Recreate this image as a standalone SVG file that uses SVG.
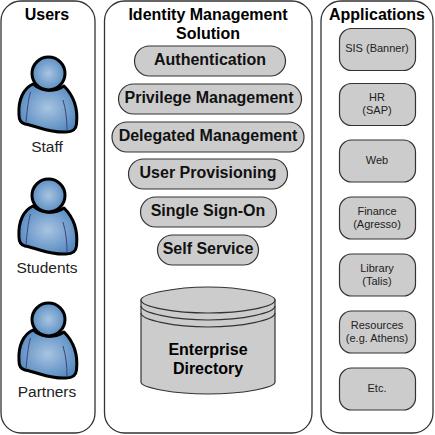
<svg xmlns="http://www.w3.org/2000/svg" width="435" height="435" viewBox="0 0 435 435">
<style>
text{font-family:"Liberation Sans",Arial,sans-serif;text-anchor:middle;fill:#000}
.h{font-size:16px;font-weight:bold}
.p{fill:#ccc;stroke:#333;stroke-width:1.2}
.pt{font-size:16px;font-weight:bold;fill:#111}
.app{fill:#ccc;stroke:#333;stroke-width:1.2}
.at{font-size:11px;fill:#222}
.lb{font-size:15.500px;fill:#222}
.panel{fill:#fff;stroke:#333;stroke-width:1.3}
.bd{fill:url(#g);stroke:#000;stroke-width:3;stroke-linejoin:round}
.cr{fill:none;stroke:#43407f;stroke-width:1}
.db{fill:#ccc;stroke:#333;stroke-width:1.2}
</style>
<defs>
<radialGradient id="g" cx="0.5" cy="0.5" r="0.6"><stop offset="0" stop-color="#a9c4e2"/><stop offset="1" stop-color="#4d85bd"/></radialGradient>
<g id="user">
<path class="bd" d="M33 84C24 88 18 99 19 115C19 120 21 123 25 124C40 127 50 133 66 132C71 132 76 130 76.500 124C78 110 74 96 64 86C55 92 42 92 33 84Z"/>
<path class="cr" d="M30.500 92C28 100 27 112 26 123M63 100C66 110 67 120 67 130"/>
<circle class="bd" cx="48.500" cy="73.500" r="16.500"/>
</g>
</defs>
<g id="users"><rect class="panel" x="1" y="1" width="94" height="432" rx="20"/><text class="h" x="47" y="20">Users</text></g>
<g id="identity"><rect class="panel" x="104.500" y="1" width="207.500" height="432" rx="20"/><text class="h" x="208" y="20">Identity Management</text><text class="h" x="208" y="39">Solution</text></g>
<g id="applications"><rect class="panel" x="321" y="1" width="112" height="432" rx="20"/><text class="h" x="377" y="20">Applications</text></g>
<g id="staff"><use href="#user"/><text class="lb" x="47" y="152">Staff</text></g>
<g id="students"><use href="#user" y="122"/><text class="lb" x="47" y="273">Students</text></g>
<g id="partners"><use href="#user" y="246"/><text class="lb" x="47" y="397">Partners</text></g>
<g id="authentication"><rect class="p" x="134.500" y="46" width="151" height="30" rx="15"/><text class="pt" x="210" y="65">Authentication</text></g>
<g id="privilege"><rect class="p" x="118.500" y="84" width="183" height="30" rx="15"/><text class="pt" x="209" y="103">Privilege Management</text></g>
<g id="delegated"><rect class="p" x="112" y="122" width="192" height="30" rx="15"/><text class="pt" x="208" y="141">Delegated Management</text></g>
<g id="provisioning"><rect class="p" x="128.500" y="159" width="159" height="30" rx="15"/><text class="pt" x="208" y="178">User Provisioning</text></g>
<g id="sso"><rect class="p" x="140.500" y="197" width="136" height="30" rx="15"/><text class="pt" x="208" y="216">Single Sign-On</text></g>
<g id="selfservice"><rect class="p" x="157.500" y="235" width="101" height="30" rx="15"/><text class="pt" x="208" y="254">Self Service</text></g>
<g id="directory">
<path class="db" d="M141 300V382C141 388 175 394 208 394C242 394 275 388 275 382V300Z"/>
<path class="db" d="M141 300C141 294 175 287 208 287C242 287 275 294 275 300C275 307 242 313 208 313C175 313 141 307 141 300Z"/>
<path fill="none" stroke="#333" stroke-width="1.2" d="M141 306C141 313 175 320 208 320C242 320 275 313 275 306M141 313C141 320 175 327 208 327C242 327 275 320 275 313"/>
<text class="h" x="208" y="355">Enterprise</text><text class="h" x="208" y="374">Directory</text></g>
<g id="sis"><rect class="app" x="339.500" y="28.500" width="76" height="42" rx="12"/><text class="at" x="377" y="52">SIS (Banner)</text></g>
<g id="hr"><rect class="app" x="339.500" y="83.500" width="76" height="42" rx="12"/><text class="at" x="377" y="101">HR</text><text class="at" x="377" y="114">(SAP)</text></g>
<g id="web"><rect class="app" x="339.500" y="140" width="76" height="42" rx="12"/><text class="at" x="377" y="164">Web</text></g>
<g id="finance"><rect class="app" x="339.500" y="197" width="76" height="42" rx="12"/><text class="at" x="377" y="215">Finance</text><text class="at" x="377" y="228">(Agresso)</text></g>
<g id="library"><rect class="app" x="339.500" y="254" width="76" height="42" rx="12"/><text class="at" x="377" y="272">Library</text><text class="at" x="377" y="285">(Talis)</text></g>
<g id="resources"><rect class="app" x="339.500" y="311" width="76" height="42" rx="12"/><text class="at" x="377" y="329">Resources</text><text class="at" x="377" y="342">(e.g. Athens)</text></g>
<g id="etc"><rect class="app" x="339.500" y="368" width="76" height="42" rx="12"/><text class="at" x="377" y="392">Etc.</text></g>
<g id="connectors"/>
</svg>
